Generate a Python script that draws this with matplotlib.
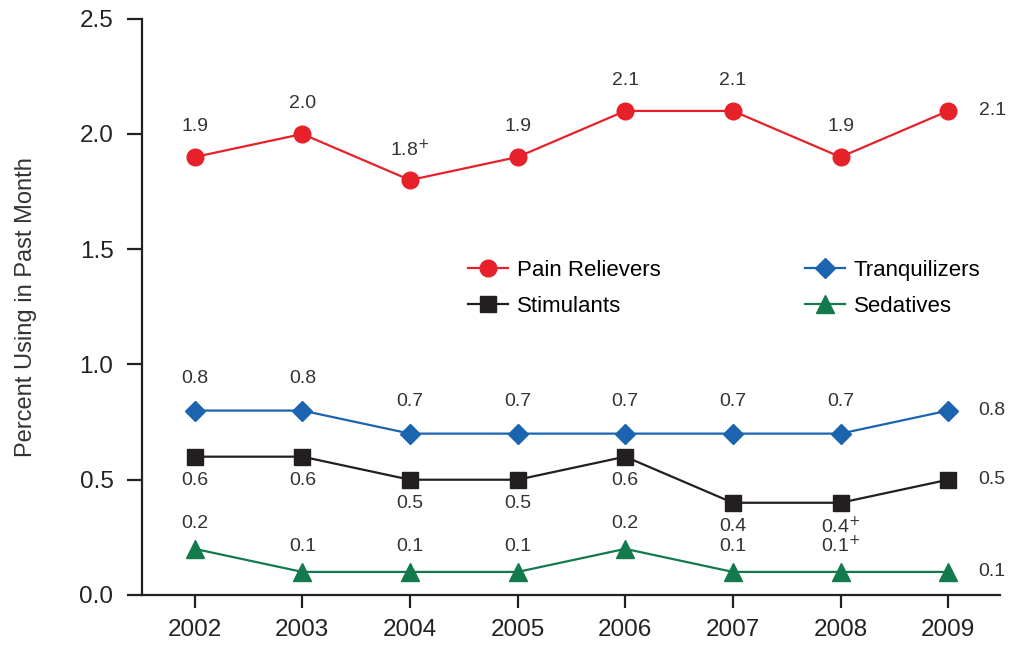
import matplotlib.pyplot as plt
import numpy as np

plt.rcParams['font.family'] = ['Liberation Sans', 'DejaVu Sans']

years = [2002, 2003, 2004, 2005, 2006, 2007, 2008, 2009]
pain = [1.9, 2.0, 1.8, 1.9, 2.1, 2.1, 1.9, 2.1]
tranq = [0.8, 0.8, 0.7, 0.7, 0.7, 0.7, 0.7, 0.8]
stim = [0.6, 0.6, 0.5, 0.5, 0.6, 0.4, 0.4, 0.5]
sed = [0.2, 0.1, 0.1, 0.1, 0.2, 0.1, 0.1, 0.1]

pain_lbl = ['1.9', '2.0', '1.8$^{+}$', '1.9', '2.1', '2.1', '1.9', '2.1']
tranq_lbl = ['0.8', '0.8', '0.7', '0.7', '0.7', '0.7', '0.7', '0.8']
stim_lbl = ['0.6', '0.6', '0.5', '0.5', '0.6', '0.4', '0.4$^{+}$', '0.5']
sed_lbl = ['0.2', '0.1', '0.1', '0.1', '0.2', '0.1', '0.1$^{+}$', '0.1']

c_pain = '#e62129'
c_tranq = '#1b64b0'
c_stim = '#231f20'
c_sed = '#137a4e'
txt = '#333333'

fig = plt.figure(figsize=(10.14, 6.46), dpi=100)
ax = fig.add_axes([0.140, 0.079, 0.846, 0.892])

ax.plot(years, pain, color=c_pain, marker='o', ms=12, lw=1.6, label='Pain Relievers')
ax.plot(years, stim, color=c_stim, marker='s', ms=11.5, lw=1.6, label='Stimulants')
ax.plot(years, tranq, color=c_tranq, marker='D', ms=10, lw=1.6, label='Tranquilizers')
ax.plot(years, sed, color=c_sed, marker='^', ms=13, lw=1.6, label='Sedatives')


def put_labels(vals, lbls, dy):
    for i, (x, v, s) in enumerate(zip(years, vals, lbls)):
        if i == len(years) - 1:
            ax.annotate(s, (x, v), xytext=(22, 0), textcoords='offset points',
                        ha='left', va='center', fontsize=14, color=txt)
        else:
            ax.annotate(s, (x, v), xytext=(0, dy), textcoords='offset points',
                        ha='center', va='center', fontsize=14, color=txt)


put_labels(pain, pain_lbl, 22)
put_labels(tranq, tranq_lbl, 23)
put_labels(stim, stim_lbl, -17)
put_labels(sed, sed_lbl, 18.5)

ax.set_xlim(2001.51, 2009.48)
ax.set_ylim(0, 2.5)
ax.set_xticks(years)
ax.set_yticks(np.arange(0, 2.51, 0.5))
ax.set_yticklabels(['%.1f' % v for v in np.arange(0, 2.51, 0.5)])

ax.spines['top'].set_visible(False)
ax.spines['right'].set_visible(False)
ax.spines['left'].set_color('#222222')
ax.spines['bottom'].set_color('#222222')
ax.spines['left'].set_linewidth(1.6)
ax.spines['bottom'].set_linewidth(1.6)
ax.tick_params(axis='y', length=11, width=1.6, labelsize=17.5, colors='#222222', pad=9.5)
ax.tick_params(axis='x', length=9.5, width=1.6, labelsize=17.5, colors='#222222', pad=8)

ax.set_ylabel('Percent Using in Past Month', fontsize=17, color=txt)
ax.yaxis.set_label_coords(-0.122, 0.5)

ax.legend(ncol=2, frameon=False, fontsize=16, loc='upper left',
          bbox_to_anchor=(0.367, 0.601), borderpad=0, columnspacing=6.5,
          handlelength=1.8, handletextpad=0.4, labelspacing=0.67)

fig.savefig('out.png', dpi=100)
